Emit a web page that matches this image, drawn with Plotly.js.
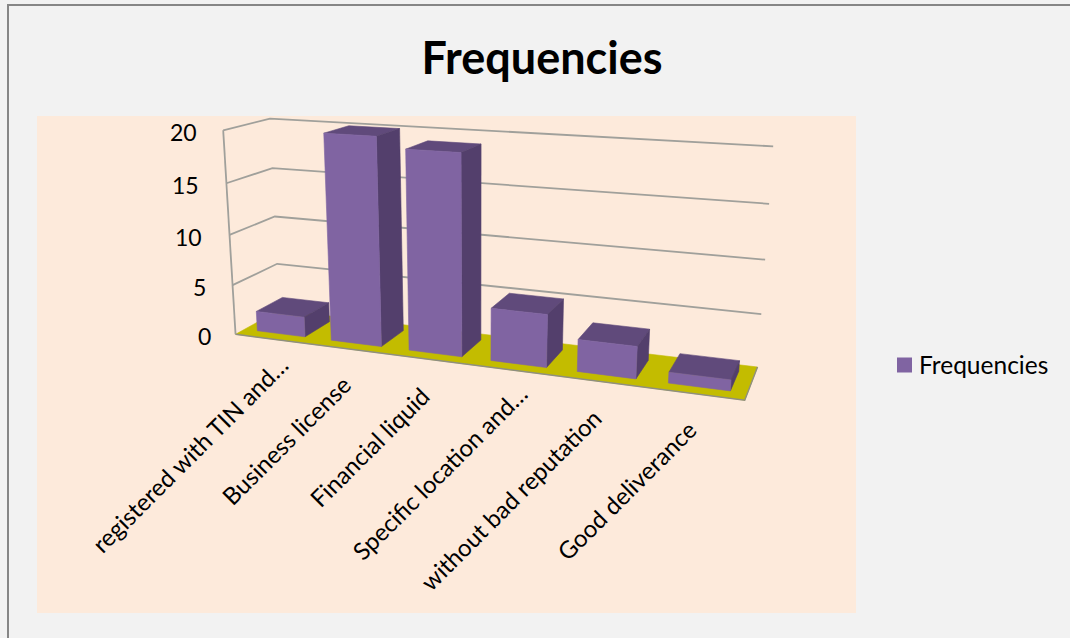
<!DOCTYPE html>
<html>
<head>
<meta charset="utf-8">
<script src="https://cdn.plot.ly/plotly-3.0.1.min.js"></script>
<style>html,body{margin:0;padding:0;background:#f2f2f2}#chart{width:1070px;height:638px}</style>
</head>
<body>
<div id="chart"></div>
<script>
// Chart data
const categories = ["registered with TIN and…", "Business license", "Financial liquid",
                    "Specific location and…", "without bad reputation", "Good deliverance"];
const frequencies = [2, 20, 19, 5, 3, 1];
const valueTicks = [0, 5, 10, 15, 20];
const seriesName = "Frequencies";

// Box proportions inside a category slot and across the floor depth
const barStart = 0.175, barEnd = 0.825, depthFront = 0.2, depthBack = 0.8;
const axisMax = 20;

// Colours
const COL = {paper:"#f2f2f2", plot:"#fdeadb", frame:"#868686", grid:"#a0a09b", floor:"#c3bc00",
             floorEdge:"#8f8f80", front:"#8064a2", top:"#604a7b", side:"#533f6c", text:"#000000"};
const FONT = "Lato, Carlito, sans-serif";

// Screen calibration of the oblique view: [slot fraction, depth, value] -> [px, px]
const calibration = [
  [0,0,0,235,334],[0,0,5,233,285],[0,0,10,230,235],[0,0,15,227,183],[0,0,20,222,131],
  [0,1,0,279,310],[0,1,5,277,264],[0,1,10,275,217],[0,1,15,273,168],[0,1,20,270,118],
  [1,1,0,757,367],[1,1,5,762,314],[1,1,10,765,260],[1,1,15,769,204],[1,1,20,773,146],
  [1,0,0,745,400]
];

function solveView(pts) {
  const n = 11, A = Array.from({length:n}, () => new Array(n + 1).fill(0));
  const add = (row, rhs) => {
    for (let i = 0; i < n; i++) {
      for (let j = 0; j < n; j++) A[i][j] += row[i] * row[j];
      A[i][n] += row[i] * rhs;
    }
  };
  pts.forEach(([u, d, val, px, py]) => {
    const v = val / axisMax, x = px / 1000, y = py / 1000;
    add([u,d,v,1,0,0,0,0,-x*u,-x*d,-x*v], x);
    add([0,0,0,0,u,d,v,1,-y*u,-y*d,-y*v], y);
  });
  for (let c = 0; c < n; c++) {
    let p = c;
    for (let r = c + 1; r < n; r++) if (Math.abs(A[r][c]) > Math.abs(A[p][c])) p = r;
    [A[c], A[p]] = [A[p], A[c]];
    for (let r = 0; r < n; r++) {
      if (r === c) continue;
      const f = A[r][c] / A[c][c];
      for (let k = c; k <= n; k++) A[r][k] -= f * A[c][k];
    }
  }
  return A.map((row, i) => row[n] / row[i]);
}
const M = solveView(calibration);
function project(u, d, val) {
  const v = val / axisMax, w = M[8]*u + M[9]*d + M[10]*v + 1;
  return [1000 * (M[0]*u + M[1]*d + M[2]*v + M[3]) / w,
          1000 * (M[4]*u + M[5]*d + M[6]*v + M[7]) / w];
}

function poly(points, color, name) {
  const pts = points.concat([points[0]]);
  return {type:"scatter", mode:"lines", x:pts.map(p => p[0]), y:pts.map(p => p[1]),
          fill:"toself", fillcolor:color, line:{color:color, width:0.6},
          hoverinfo:name ? "text" : "skip", text:name || "", showlegend:false};
}
function polyline(segments, color, width) {
  const x = [], y = [];
  segments.forEach(s => { s.forEach(p => { x.push(p[0]); y.push(p[1]); }); x.push(null); y.push(null); });
  return {type:"scatter", mode:"lines", x, y, line:{color, width}, hoverinfo:"skip", showlegend:false};
}

const traces = [];
// Floor
traces.push(poly([project(0,0,0), project(1,0,0), project(1,1,0), project(0,1,0)], COL.floor));
traces.push(polyline([[project(0,0,0), project(1,0,0), project(1,1,0)]], COL.floorEdge, 1.4));
// Walls: gridlines run along the side wall and then the back wall
const wallLines = valueTicks.filter(v => v > 0).map(v => [project(0,0,v), project(0,1,v), project(1,1,v)]);
wallLines.push([project(0,0,0), project(0,0,axisMax)]);
traces.push(polyline(wallLines, COL.grid, 1.8));
// Bars, painted left to right so nearer boxes overlap earlier ones
const slots = categories.length;
frequencies.forEach((val, i) => {
  const u0 = (i + barStart) / slots, u1 = (i + barEnd) / slots;
  const label = categories[i] + ": " + val;
  traces.push(poly([project(u0,depthFront,val), project(u1,depthFront,val), project(u1,depthBack,val), project(u0,depthBack,val)], COL.top, label));
  traces.push(poly([project(u1,depthFront,0), project(u1,depthBack,0), project(u1,depthBack,val), project(u1,depthFront,val)], COL.side, label));
  traces.push(poly([project(u0,depthFront,0), project(u1,depthFront,0), project(u1,depthFront,val), project(u0,depthFront,val)], COL.front, label));
});
// Series key: swatch and its name
const keyX = 904.5, keyY = 365, keyTextX = 917, keyTextY = 364;
traces.push({type:"scatter", mode:"markers", x:[keyX], y:[keyY], name:seriesName, showlegend:false, hoverinfo:"skip",
             marker:{symbol:"square", size:15, color:COL.front}});

// Tick and category text
const valueLabelRight = [213, 208, 204, 201, 199];
const valueLabelDy = 2;
const annotations = valueTicks.map((v, i) => ({
  xref:"x", yref:"y", x:valueLabelRight[i], y:project(0,0,v)[1] + valueLabelDy, text:String(v), showarrow:false,
  xanchor:"right", yanchor:"middle", font:{family:FONT, size:23, color:COL.text}
}));
const labelCentreX = [189, 285.5, 368.5, 439, 510.5, 626];
const labelCentreY = [454, 440, 447, 472, 499.5, 490];
categories.forEach((c, i) => annotations.push({
  xref:"x", yref:"y", x:labelCentreX[i], y:labelCentreY[i], text:c, showarrow:false, textangle:-45,
  xanchor:"center", yanchor:"middle", font:{family:FONT, size:24, color:COL.text}
}));
annotations.push({xref:"x", yref:"y", x:keyTextX, y:keyTextY, text:seriesName, showarrow:false,
  xanchor:"left", yanchor:"middle", font:{family:FONT, size:24.5, color:COL.text}});

const layout = {
  width:1070, height:638, margin:{l:0, r:0, t:0, b:0},
  paper_bgcolor:COL.paper, plot_bgcolor:COL.paper,
  title:{text:"<b>Frequencies</b>", x:542/1070, y:1-58/638, xanchor:"center", yanchor:"middle",
         font:{family:FONT, size:45, color:COL.text}},
  xaxis:{range:[0,1070], visible:false, fixedrange:true},
  yaxis:{range:[638,0], visible:false, fixedrange:true},
  showlegend:false,
  shapes:[
    {type:"rect", layer:"below", xref:"x", yref:"y", x0:8, x1:1075, y0:5, y1:645, line:{color:COL.frame, width:2}, fillcolor:COL.paper},
    {type:"rect", layer:"below", xref:"x", yref:"y", x0:37, x1:856, y0:116, y1:613, line:{width:0}, fillcolor:COL.plot}
  ],
  annotations
};
Plotly.newPlot("chart", traces, layout, {displayModeBar:false});
</script>
</body>
</html>
